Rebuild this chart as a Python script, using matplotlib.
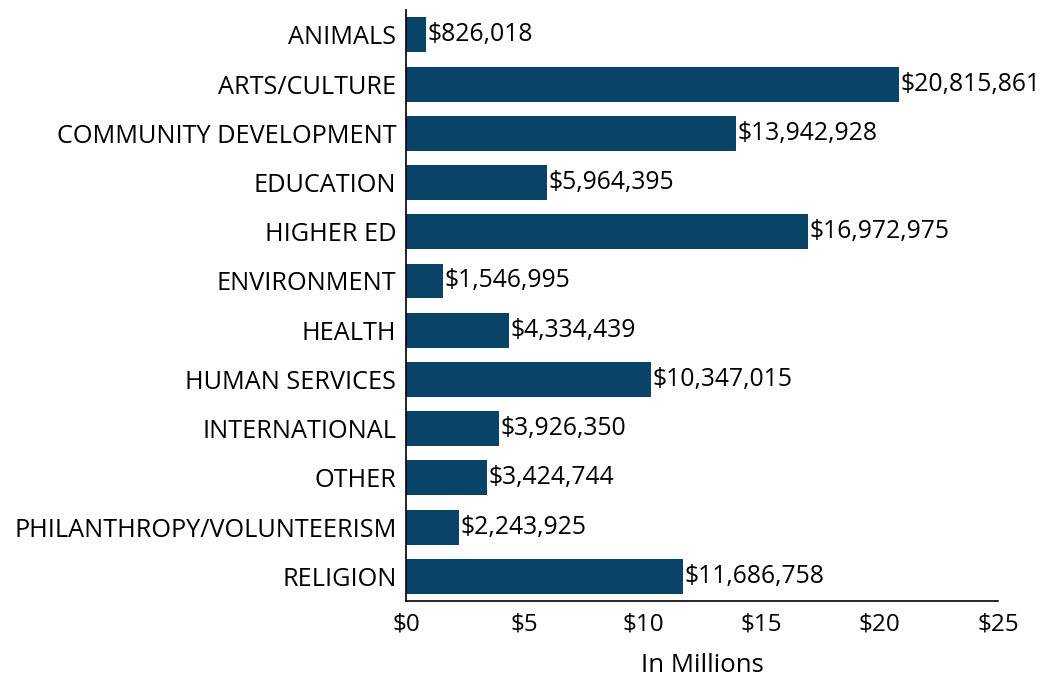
import matplotlib
matplotlib.use('Agg')
import matplotlib.pyplot as plt

categories = ['ANIMALS', 'ARTS/CULTURE', 'COMMUNITY DEVELOPMENT', 'EDUCATION', 'HIGHER ED',
              'ENVIRONMENT', 'HEALTH', 'HUMAN SERVICES', 'INTERNATIONAL', 'OTHER',
              'PHILANTHROPY/VOLUNTEERISM', 'RELIGION']
amounts = [826018, 20815861, 13942928, 5964395, 16972975, 1546995, 4334439,
           10347015, 3926350, 3424744, 2243925, 11686758]
xticks = [0, 5, 10, 15, 20, 25]

plt.rcParams['font.family'] = ['Open Sans', 'DejaVu Sans']

fig = plt.figure(figsize=(10.44, 6.81), dpi=100)
ax = fig.add_axes([0.389, 0.1175, 0.567, 0.8675])

millions = [a / 1e6 for a in amounts]
ypos = list(range(len(categories)))
bars = ax.barh(ypos, millions, height=0.71, color='#0a4368')
ax.bar_label(bars, labels=['${:,}'.format(a) for a in amounts], padding=1, fontsize=17.8)

ax.set_yticks(ypos)
ax.set_yticklabels(categories, fontsize=18.2)
ax.set_ylim(len(categories) - 0.5, -0.5)
ax.set_xlim(0, 25)
ax.set_xticks(xticks)
ax.set_xticklabels(['$' + str(t) for t in xticks], fontsize=17.5)
ax.tick_params(axis='y', length=0, pad=7)
ax.tick_params(axis='x', length=0, pad=8)
ax.set_xlabel('In Millions', fontsize=18.5, labelpad=12)

for s in ['top', 'right']:
    ax.spines[s].set_visible(False)
ax.spines['left'].set_linewidth(1.2)
ax.spines['bottom'].set_linewidth(1.2)

plt.savefig('out.png')
plt.close()
